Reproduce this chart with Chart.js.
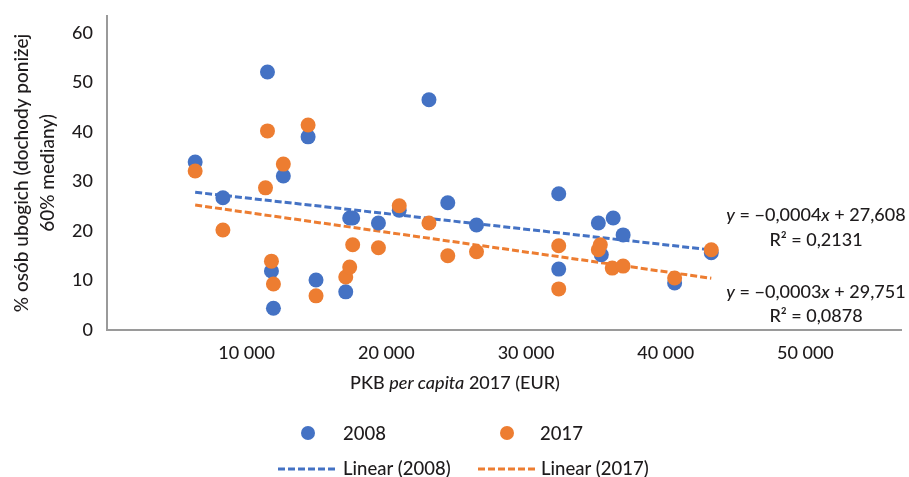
<!DOCTYPE html>
<html><head><meta charset="utf-8">
<script src="https://cdn.jsdelivr.net/npm/chart.js@4"></script>
<style>html,body{margin:0;padding:0;background:#fff}#wrap{width:909px;height:477px;position:relative}</style>
</head><body><div id="wrap"><canvas id="c" width="909" height="477"></canvas></div>
<script>
const seriesNames = ['2008', '2017'];
const seriesColors = ['#4472C4', '#ED7D31'];
const gdp2008 = [6312, 8298, 11489, 11773, 11915, 12624, 14397, 14965, 17092, 17376, 17589, 19433, 20922, 23050, 24397, 26454, 32340, 32340, 35177, 35390, 36241, 36950, 40638, 43262];
const pov2008 = [33.9, 26.7, 52.1, 11.9, 4.4, 31.1, 39.0, 10.1, 7.7, 22.6, 22.6, 21.6, 24.2, 46.5, 25.7, 21.2, 27.5, 12.3, 21.6, 15.2, 22.6, 19.2, 9.5, 15.6];
const gdp2017 = [6312, 8298, 11489, 11348, 11773, 11915, 12624, 14397, 14965, 17092, 17376, 17589, 19433, 20922, 23050, 24397, 26454, 32340, 32340, 35177, 35319, 36170, 36950, 40638, 43262];
const pov2017 = [32.1, 20.2, 40.2, 28.7, 13.9, 9.3, 33.5, 41.4, 6.9, 10.7, 12.7, 17.2, 16.6, 25.1, 21.6, 15.0, 15.8, 17.0, 8.3, 16.2, 17.2, 12.5, 12.9, 10.5, 16.2];
const trendNames = ['Linear (2008)', 'Linear (2017)'];
const trendSlope = [-0.000315, -0.0004];
const trendIntercept = [29.8, 27.75];
const xTicks = [10000, 20000, 30000, 40000, 50000];
const yTicks = [0, 10, 20, 30, 40, 50, 60];
const yTitle = ['% osób ubogich (dochody poniżej', '60% mediany)'];
const xTitleParts = [['PKB ', false], ['per capita', true], [' 2017 (EUR)', false]];
const eq1 = [['y', true], [' = −0,0004', false], ['x', true], [' + 27,608', false]];
const eq1r = 'R² = 0,2131';
const eq2 = [['y', true], [' = −0,0003', false], ['x', true], [' + 29,751', false]];
const eq2r = 'R² = 0,0878';

const FONT = 'Lato, "Open Sans", sans-serif';
const TXT = '#1e1b1c';
const W = '500';

function pts(xs, ys) { return xs.map((x, i) => ({x: x, y: ys[i]})); }
function trend(xs, k) {
  const a = Math.min(...xs), b = Math.max(...xs);
  return [{x: a, y: trendIntercept[k] + trendSlope[k] * a}, {x: b, y: trendIntercept[k] + trendSlope[k] * b}];
}

function drawParts(ctx, parts, cx, cy, size) {
  let w = 0;
  const f = p => (p[1] ? 'italic ' : '') + W + ' ' + size + 'px ' + FONT;
  parts.forEach(p => { ctx.font = f(p); w += ctx.measureText(p[0]).width; });
  let x = cx - w / 2;
  ctx.textAlign = 'left'; ctx.textBaseline = 'middle'; ctx.fillStyle = TXT;
  parts.forEach(p => { ctx.font = f(p); ctx.fillText(p[0], x, cy); x += ctx.measureText(p[0]).width; });
}

const extras = {
  id: 'extras',
  afterDraw(chart) {
    const ctx = chart.ctx;
    ctx.save();
    drawParts(ctx, xTitleParts, 455, 383, 18);
    drawParts(ctx, eq1, 816, 215, 18);
    drawParts(ctx, [[eq1r, false]], 816, 240, 18);
    drawParts(ctx, eq2, 816, 292, 18);
    drawParts(ctx, [[eq2r, false]], 816, 316, 18);
    const ds = chart.data.datasets;
    ctx.font = W + ' 18.5px ' + FONT; ctx.textBaseline = 'middle'; ctx.textAlign = 'left';
    const dotX = [308, 507], txtX1 = [343, 540];
    [0, 1].forEach(i => {
      ctx.beginPath(); ctx.fillStyle = ds[i].backgroundColor; ctx.arc(dotX[i], 433, 7, 0, Math.PI * 2); ctx.fill();
      ctx.fillStyle = TXT; ctx.fillText(ds[i].label, txtX1[i], 434);
    });
    const lx0 = [278, 478], lx1 = [338, 537], txtX2 = [343, 541];
    [2, 3].forEach((d, i) => {
      ctx.beginPath(); ctx.strokeStyle = ds[d].borderColor; ctx.lineWidth = 3; ctx.setLineDash([7, 3]);
      ctx.moveTo(lx0[i], 469); ctx.lineTo(lx1[i], 469); ctx.stroke(); ctx.setLineDash([]);
      ctx.fillStyle = TXT; ctx.fillText(ds[d].label, txtX2[i], 469);
    });
    ctx.restore();
  }
};

new Chart(document.getElementById('c'), {
  type: 'scatter',
  data: {
    datasets: [
      {label: seriesNames[0], data: pts(gdp2008, pov2008), backgroundColor: seriesColors[0], borderColor: seriesColors[0], pointRadius: 7.5, pointBorderWidth: 0, order: 1},
      {label: seriesNames[1], data: pts(gdp2017, pov2017), backgroundColor: seriesColors[1], borderColor: seriesColors[1], pointRadius: 7.5, pointBorderWidth: 0, order: 0},
      {label: trendNames[0], type: 'line', data: trend(gdp2008, 0), borderColor: seriesColors[0], backgroundColor: seriesColors[0], borderWidth: 3, borderDash: [7, 3], pointRadius: 0, fill: false, order: 3},
      {label: trendNames[1], type: 'line', data: trend(gdp2017, 1), borderColor: seriesColors[1], backgroundColor: seriesColors[1], borderWidth: 3, borderDash: [7, 3], pointRadius: 0, fill: false, order: 2}
    ]
  },
  options: {
    responsive: false, animation: false, devicePixelRatio: 1,
    layout: {padding: {top: 16, left: 0, right: 0, bottom: 0}},
    plugins: {legend: {display: false}, tooltip: {enabled: false}},
    scales: {
      x: {
        type: 'linear', min: 0, max: 56880,
        grid: {display: false, drawTicks: false},
        border: {display: true, color: '#9a9a9a', width: 2},
        afterBuildTicks: s => { s.ticks = xTicks.map(v => ({value: v})); },
        afterFit: s => { s.height = 147; s.paddingLeft = 0; s.paddingRight = 0; },
        ticks: {padding: 12, color: TXT, font: {family: FONT, size: 18, weight: W}, maxRotation: 0,
          callback: v => String(v).replace(/\B(?=(\d{3})+(?!\d))/g, ' ')}
      },
      y: {
        min: 0, max: 63.4,
        grid: {display: false, drawTicks: false},
        border: {display: true, color: '#9a9a9a', width: 2},
        afterBuildTicks: s => { s.ticks = yTicks.map(v => ({value: v})); },
        afterFit: s => { s.width = 107; s.paddingTop = 0; s.paddingBottom = 0; },
        ticks: {padding: 14, color: TXT, font: {family: FONT, size: 18, weight: W}},
        title: {display: true, text: yTitle, color: TXT, font: {family: FONT, size: 19, lineHeight: 1.35, weight: W}, padding: {top: 9, bottom: 0}}
      }
    }
  },
  plugins: [extras]
});
</script></body></html>
